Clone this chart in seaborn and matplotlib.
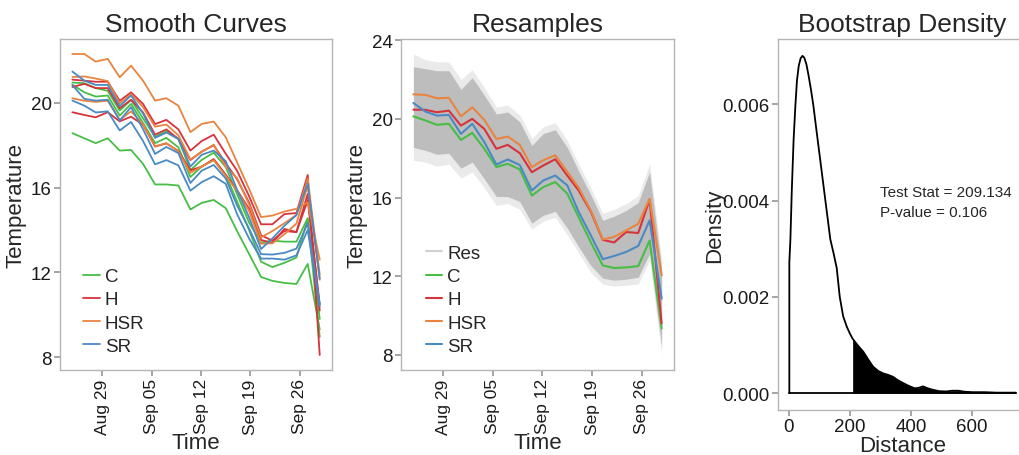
#!/usr/bin/env python3
"""
Smooth curves / resamples / bootstrap density panel figure.
"""

import numpy as np
import pandas as pd
import matplotlib
matplotlib.use("Agg")
import matplotlib.pyplot as plt
import matplotlib.dates as mdates
from matplotlib.lines import Line2D
import seaborn as sns

# ---- data ---------------------------------------------------------------
# measurement times, in days relative to Aug 29
day_offsets = [-4.2, -2.5, -0.9, 0.8, 2.5, 4.1, 5.8, 7.5, 9.1, 10.8, 12.5,
               14.1, 15.8, 17.5, 19.1, 20.8, 22.5, 24.1, 25.8, 27.5, 29.1, 30.8]
tick_dates = ["2015-08-29", "2015-09-05", "2015-09-12", "2015-09-19", "2015-09-26"]

groups = ["C", "H", "HSR", "SR"]

# smooth curves, three replicates per group
c_rep1 = [18.57, 18.33, 18.10, 18.33, 17.75, 17.78, 17.12, 16.15, 16.15, 16.10, 14.97,
          15.28, 15.42, 15.03, 13.95, 12.87, 11.78, 11.60, 11.50, 11.45, 12.40, 9.30]
c_rep2 = [20.86, 20.50, 20.30, 20.35, 19.40, 19.95, 19.05, 18.10, 18.35, 17.90, 16.50,
          17.00, 17.30, 16.60, 15.35, 14.00, 12.50, 12.25, 12.45, 12.70, 14.50, 9.80]
c_rep3 = [20.96, 20.93, 20.70, 20.57, 19.64, 20.14, 19.27, 18.40, 18.66, 18.29, 16.83,
          17.31, 17.65, 16.97, 15.70, 14.35, 13.40, 13.50, 13.45, 13.45, 14.56, 8.95]

h_rep1 = [21.10, 21.05, 21.00, 21.00, 20.10, 20.50, 19.95, 19.00, 19.20, 18.75, 17.75,
          18.20, 18.50, 17.60, 16.80, 15.60, 14.27, 14.27, 14.75, 14.80, 16.60, 8.10]
h_rep2 = [20.75, 20.90, 20.70, 20.70, 19.75, 20.15, 19.55, 18.50, 18.75, 18.30, 17.30,
          17.70, 18.00, 17.15, 16.40, 15.30, 13.75, 13.50, 13.95, 13.90, 15.70, 10.20]
h_rep3 = [19.56, 19.43, 19.32, 19.56, 19.13, 19.35, 18.97, 17.94, 18.09, 17.73, 16.82,
          16.99, 17.35, 16.61, 15.88, 15.00, 13.53, 13.39, 14.05, 13.90, 15.40, 10.50]

hsr_rep1 = [22.31, 22.31, 21.95, 22.08, 21.21, 21.76, 21.05, 20.11, 20.22, 19.87, 18.62,
            19.01, 19.12, 18.38, 17.20, 15.94, 14.61, 14.68, 14.87, 15.00, 15.30, 12.60]
hsr_rep2 = [21.22, 21.25, 21.15, 21.03, 19.98, 20.41, 19.80, 18.88, 18.98, 18.47, 17.33,
            17.69, 18.03, 16.97, 16.45, 15.21, 13.65, 13.95, 14.32, 14.71, 16.42, 11.90]
hsr_rep3 = [20.22, 20.10, 20.05, 20.10, 19.20, 19.60, 19.00, 17.95, 18.10, 17.70, 16.70,
            17.00, 17.30, 16.55, 15.85, 14.90, 13.35, 13.37, 13.80, 14.30, 16.10, 11.65]

sr_rep1 = [21.48, 21.05, 20.85, 20.85, 19.85, 20.35, 19.50, 18.35, 18.60, 18.30, 17.00,
           17.55, 17.75, 17.25, 15.90, 14.60, 13.10, 13.60, 14.20, 14.70, 16.20, 11.70]
sr_rep2 = [20.84, 20.19, 20.11, 20.15, 19.17, 19.80, 18.76, 17.59, 17.92, 17.63, 16.22,
           16.80, 17.07, 16.43, 15.16, 14.07, 12.86, 12.84, 12.92, 13.12, 14.32, 10.48]
sr_rep3 = [20.11, 19.87, 19.55, 19.60, 18.70, 19.10, 18.20, 17.10, 17.30, 17.05, 15.86,
           16.26, 16.54, 16.18, 14.75, 13.60, 12.65, 12.65, 12.60, 12.80, 14.00, 10.40]

# group curves shown over the resamples
c_mean = [20.13, 19.92, 19.70, 19.75, 18.93, 19.29, 18.48, 17.55, 17.72, 17.43, 16.10,
          16.53, 16.79, 16.20, 15.00, 13.74, 12.55, 12.42, 12.45, 12.52, 13.82, 9.35]
h_mean = [20.47, 20.46, 20.34, 20.42, 19.66, 20.00, 19.49, 18.48, 18.68, 18.26, 17.29,
          17.63, 17.95, 17.12, 16.36, 15.30, 13.85, 13.72, 14.25, 14.20, 15.90, 9.60]
hsr_mean = [21.25, 21.22, 21.05, 21.07, 20.13, 20.59, 19.95, 18.98, 19.10, 18.68, 17.55,
            17.90, 18.15, 17.30, 16.50, 15.35, 13.87, 14.00, 14.33, 14.67, 15.94, 12.05]
sr_mean = [20.81, 20.37, 20.17, 20.20, 19.24, 19.75, 18.82, 17.68, 17.94, 17.66, 16.36,
           16.87, 17.12, 16.62, 15.27, 14.09, 12.87, 13.03, 13.24, 13.54, 14.84, 10.86]

# envelope of the resampled curves (dense core and faint fringe)
res_core_hi = [22.65, 22.55, 22.45, 22.45, 21.50, 22.10, 21.20, 20.25, 20.35, 19.85, 18.65,
               19.25, 19.45, 18.55, 17.35, 16.15, 14.85, 15.05, 15.35, 15.75, 17.30, 12.40]
res_core_lo = [18.55, 18.40, 18.20, 18.25, 17.50, 17.80, 16.95, 16.05, 16.05, 15.80, 14.70,
               15.10, 15.30, 14.45, 13.50, 12.55, 11.90, 11.80, 11.85, 11.95, 13.15, 8.45]
res_fringe_hi = [23.30, 23.00, 22.90, 22.90, 22.00, 22.50, 21.60, 20.60, 20.70, 20.20, 19.00,
                 19.60, 19.80, 18.90, 17.70, 16.50, 15.20, 15.40, 15.70, 16.10, 17.70, 12.90]
res_fringe_lo = [17.90, 17.80, 17.60, 17.70, 17.00, 17.30, 16.50, 15.60, 15.70, 15.40, 14.40,
                 14.80, 15.00, 14.10, 13.20, 12.20, 11.60, 11.50, 11.55, 11.60, 12.80, 8.00]

# bootstrap density of the distance statistic
dens_x = [2, 2, 5.5, 10, 16, 22, 27, 33, 39, 45, 51, 58, 65, 73, 81, 90, 98, 108, 114,
          122, 130, 136, 147, 157, 167, 178, 190, 200, 209.134, 225, 244, 260, 276, 293,
          309, 325, 341, 357, 374, 393, 412, 425, 439, 455, 471, 493, 515, 535, 555, 575,
          601, 640, 680, 743]
dens_y = [0.0, 0.00272, 0.0032, 0.0042, 0.00527, 0.0060, 0.0065, 0.00681, 0.00696,
          0.00701, 0.00697, 0.00683, 0.00660, 0.0063, 0.00596, 0.0055, 0.0051, 0.0046,
          0.0043, 0.0039, 0.0035, 0.0032, 0.0029, 0.0026, 0.0020, 0.0016, 0.00138, 0.00124,
          0.00113, 0.00100, 0.00086, 0.00070, 0.00055, 0.00046, 0.00041, 0.00038, 0.00034,
          0.00027, 0.00021, 0.00015, 0.00010, 0.00011, 0.00014, 0.00010, 0.00007, 0.00004,
          0.000035, 0.00005, 0.00005, 0.00003, 0.00002, 0.00002, 0.00001, 0.00001]
test_stat = 209.134
p_value = 0.106

# ---- styling ------------------------------------------------------------
palette = {"C": "#46BE46", "H": "#D8323C", "HSR": "#E9843F", "SR": "#4A8AC4"}
res_color = "#BDBDBD"

sns.set_theme(style="white", rc={
    "axes.edgecolor": "#B5B5B5",
    "axes.linewidth": 1.0,
    "xtick.bottom": True,
    "ytick.left": True,
    "xtick.color": "#999999",
    "ytick.color": "#999999",
    "xtick.labelcolor": "#1A1A1A",
    "ytick.labelcolor": "#1A1A1A",
    "xtick.major.size": 4,
    "ytick.major.size": 4,
})
plt.rcParams["font.family"] = ["Liberation Sans", "DejaVu Sans"]

times = pd.Timestamp("2015-08-29") + pd.to_timedelta(day_offsets, unit="D")
ticks = pd.to_datetime(tick_dates)

replicates = {
    "C": [c_rep1, c_rep2, c_rep3],
    "H": [h_rep1, h_rep2, h_rep3],
    "HSR": [hsr_rep1, hsr_rep2, hsr_rep3],
    "SR": [sr_rep1, sr_rep2, sr_rep3],
}
rows = []
for g, reps in replicates.items():
    for k, vals in enumerate(reps):
        for tm, v in zip(times, vals):
            rows.append({"time": tm, "temp": v, "group": g, "rep": f"{g}{k}"})
smooth = pd.DataFrame(rows)

means = {"C": c_mean, "H": h_mean, "HSR": hsr_mean, "SR": sr_mean}
mean_df = pd.DataFrame([{"time": tm, "temp": v, "group": g}
                        for g, vals in means.items() for tm, v in zip(times, vals)])


def padded(lo, hi, frac=0.05):
    span = hi - lo
    return lo - frac * span, hi + frac * span


legend_kw = dict(loc="lower left", frameon=False, fontsize=13.5, handlelength=0.9,
                 handletextpad=0.25, labelspacing=0.33, borderaxespad=0.4)

fig = plt.figure(figsize=(10.19, 4.56), dpi=100)
ax1 = fig.add_axes([0.0589, 0.1864, 0.267, 0.726])
ax2 = fig.add_axes([0.3935, 0.1864, 0.268, 0.726])
ax3 = fig.add_axes([0.7635, 0.0987, 0.2445, 0.8136])

tmin, tmax = padded(mdates.date2num(times[0]), mdates.date2num(times[-1]))

# ---- panel 1: smooth curves ----------------------------------------------
sns.lineplot(data=smooth, x="time", y="temp", hue="group", hue_order=groups,
             units="rep", estimator=None, palette=palette, lw=1.3, ax=ax1)
ax1.set_ylim(*padded(smooth["temp"].min(), smooth["temp"].max()))
ax1.set_yticks([8, 12, 16, 20])
handles, labels = ax1.get_legend_handles_labels()
ax1.legend(handles, labels, bbox_to_anchor=(0.03, 0.0), **legend_kw)
ax1.set_title("Smooth Curves", fontsize=19, pad=6)

# ---- panel 2: resamples --------------------------------------------------
ax2.fill_between(times, res_fringe_lo, res_fringe_hi, color="#EAEAEA", lw=0)
ax2.fill_between(times, res_core_lo, res_core_hi, color=res_color, lw=0)
sns.lineplot(data=mean_df, x="time", y="temp", hue="group", hue_order=groups,
             palette=palette, lw=1.5, ax=ax2)
ax2.set_ylim(*padded(min(res_fringe_lo), max(res_fringe_hi)))
ax2.set_yticks([8, 12, 16, 20, 24])
handles, labels = ax2.get_legend_handles_labels()
handles = [Line2D([], [], color="#D0D0D0", lw=1.5)] + handles
labels = ["Res"] + labels
ax2.legend(handles, labels, bbox_to_anchor=(0.035, 0.0), **legend_kw)
ax2.set_title("Resamples", fontsize=19, pad=6)

for ax in (ax1, ax2):
    ax.set_xlim(tmin, tmax)
    ax.set_xticks(ticks)
    ax.xaxis.set_major_formatter(mdates.DateFormatter("%b %d"))
    ax.tick_params(axis="x", labelrotation=90, labelsize=12.5, pad=2)
    ax.tick_params(axis="y", labelsize=13.5, pad=2)
    ax.set_xlabel("Time", fontsize=16, labelpad=-1)
    ax.set_ylabel("Temperature", fontsize=16, labelpad=3)

# ---- panel 3: bootstrap density -----------------------------------------
dx = np.array(dens_x)
dy = np.array(dens_y)
tail = dx >= test_stat
ax3.fill_between(dx[tail], dy[tail], color="black", lw=0)
sns.lineplot(x=dx, y=dy, sort=False, estimator=None, color="black", lw=1.3, ax=ax3)
sns.lineplot(x=[dx.min(), dx.max()], y=[0, 0], color="black", lw=1.3, ax=ax3)
ax3.set_xlim(*padded(dx.min(), dx.max()))
ax3.set_ylim(*padded(0, dy.max()))
ax3.set_xticks([0, 200, 400, 600])
ax3.set_yticks([0.0, 0.002, 0.004, 0.006])
ax3.yaxis.set_major_formatter(matplotlib.ticker.FormatStrFormatter("%.3f"))
ax3.tick_params(labelsize=13.5, pad=2)
ax3.text(300, 0.00418, f"Test Stat = {test_stat:.3f}", fontsize=11, va="center")
ax3.text(300, 0.00377, f"P-value = {p_value:.3f}", fontsize=11, va="center")
ax3.set_xlabel("Distance", fontsize=16, labelpad=0)
ax3.set_ylabel("Density", fontsize=16, labelpad=-2)
ax3.set_title("Bootstrap Density", fontsize=19, pad=6)

fig.savefig("out.png", dpi=100)
